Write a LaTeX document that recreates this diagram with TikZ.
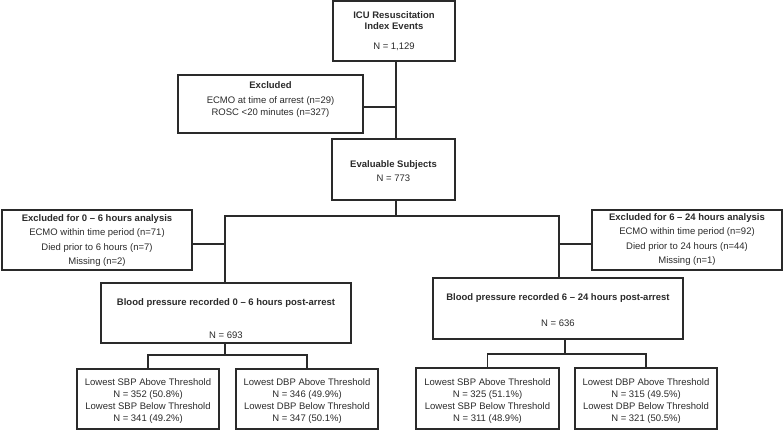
\documentclass[tikz,border=0pt]{standalone}
\usepackage{fontspec}
\setmainfont{Liberation Sans}
\definecolor{ink}{HTML}{2A2A2A}
\begin{document}
\begin{tikzpicture}[x=1pt,y=-1pt,
  box/.style={draw=ink, line width=1.2pt, rectangle, inner sep=0pt},
  thickbox/.style={box, line width=2.3pt},
  txt/.style={align=center, text=ink, inner sep=0pt, font=\fontsize{9.5}{11.7}\selectfont},
  conn/.style={draw=ink, line width=1.2pt}]
\useasboundingbox (0,0) rectangle (784,431);
% boxes
\node[box, minimum width=122pt, minimum height=60pt] (top) at (394,31) {};
\node[box, minimum width=185pt, minimum height=58pt] (excl) at (270.5,104) {};
\node[box, minimum width=123pt, minimum height=61pt] (eval) at (393.5,169.5) {};
\node[box, minimum width=190pt, minimum height=60pt] (exL) at (97,240) {};
\node[box, minimum width=190pt, minimum height=60pt] (exR) at (687,240) {};
\node[thickbox, minimum width=250pt, minimum height=60pt] (bpL) at (226,313) {};
\node[thickbox, minimum width=250pt, minimum height=61pt] (bpR) at (558,308.5) {};
\node[box, minimum width=142pt, minimum height=60pt] (cL1) at (148,399) {};
\node[box, minimum width=142pt, minimum height=60pt] (cL2) at (307,399) {};
\node[box, minimum width=143pt, minimum height=61pt] (cR1) at (487.5,398.5) {};
\node[box, minimum width=142pt, minimum height=61pt] (cR2) at (646,398.5) {};
% texts
\node[txt, font=\fontsize{9.5}{11}\selectfont] (topT) at (394,31) {\textbf{ICU Resuscitation}\\\textbf{Index Events}\\[9pt]N = 1,129};
\node[txt, font=\fontsize{9.5}{12}\selectfont] (exclT) at (270.5,100) {\textbf{Excluded}\\[3pt]ECMO at time of arrest (n=29)\\ROSC <20 minutes (n=327)};
\node[txt, font=\fontsize{9.5}{14}\selectfont] (evalT) at (393.5,171) {\textbf{Evaluable Subjects}\\N = 773};
\node[txt, font=\fontsize{9.5}{14.3}\selectfont] (exLT) at (97,240.5) {\textbf{Excluded for 0 – 6 hours analysis}\\ECMO within time period (n=71)\\Died prior to 6 hours (n=7)\\Missing (n=2)};
\node[txt, font=\fontsize{9.5}{14.3}\selectfont] (exRT) at (687,239.5) {\textbf{Excluded for 6 – 24 hours analysis}\\ECMO within time period (n=92)\\Died prior to 24 hours (n=44)\\Missing (n=1)};
\node[txt] (bpLT) at (226,318.5) {\textbf{Blood pressure recorded 0 – 6 hours post-arrest}\\[21.3pt]N = 693};
\node[txt] (bpRT) at (558,310) {\textbf{Blood pressure recorded 6 – 24 hours post-arrest}\\[14.3pt]N = 636};
\node[txt] (cL1T) at (148,401) {Lowest SBP Above Threshold\\N = 352 (50.8\%)\\Lowest SBP Below Threshold\\N = 341 (49.2\%)};
\node[txt] (cL2T) at (307,401) {Lowest DBP Above Threshold\\N = 346 (49.9\%)\\Lowest DBP Below Threshold\\N = 347 (50.1\%)};
\node[txt] (cR1T) at (487.5,401) {Lowest SBP Above Threshold\\N = 325 (51.1\%)\\Lowest SBP Below Threshold\\N = 311 (48.9\%)};
\node[txt] (cR2T) at (646,401) {Lowest DBP Above Threshold\\N = 315 (49.5\%)\\Lowest DBP Below Threshold\\N = 321 (50.5\%)};
% connectors
\coordinate (spine) at (396,0);
\coordinate (hl) at (225,216);
\coordinate (hr) at (559,216);
\coordinate (bl) at (225,355);
\coordinate (brr) at (565,354);
\draw[conn] (top.south -| spine) -- (eval.north -| spine);
\draw[conn] ([yshift=-3pt]excl.east) -- ([yshift=-3pt]excl.east -| spine);
\draw[conn] (eval.south -| spine) -- (spine |- hl);
\draw[conn] (bpL.north -| hl) -- (hl) -- (hr) -- (hr |- bpR.north);
\draw[conn] ([yshift=-4pt]exL.east) -- ([yshift=-4pt]exL.east -| hl);
\draw[conn] ([yshift=-4pt]exR.west) -- ([yshift=-4pt]exR.west -| hr);
\draw[conn] (bpL.south -| bl) -- (bl);
\draw[conn] (cL1.north) |- (bl) -| (cL2.north);
\draw[conn] (bpR.south -| brr) -- (brr);
\draw[conn] (cR1.north) |- (brr) -| (cR2.north);
\end{tikzpicture}
\end{document}
